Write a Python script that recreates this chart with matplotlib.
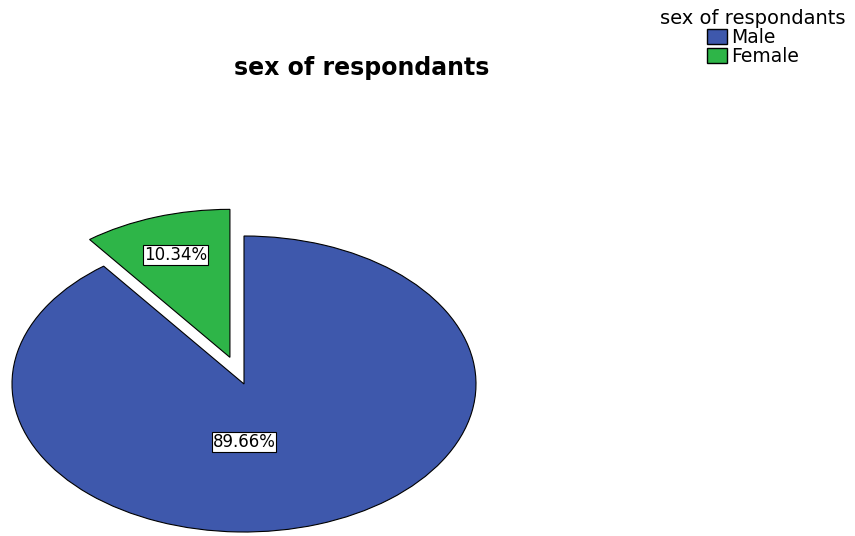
import matplotlib.pyplot as plt
from matplotlib.patches import Patch

plt.rcParams['font.family'] = ['DejaVu Sans']

categories = ["Male", "Female"]
percents = [89.66, 10.34]
colors = ["#3e58ac", "#2eb548"]
explode = [0.0, 0.19]

fig = plt.figure(figsize=(8.55, 5.36), dpi=100)
# axes placed so the unit circle maps onto the stretched SPSS-style ellipse
ax = fig.add_axes([12 / 855, 4 / 536, 464 / 855, 296 / 536])

wedges, texts, autotexts = ax.pie(
    percents, colors=colors, explode=explode, startangle=90,
    counterclock=False, autopct="%.2f%%", pctdistance=0.73,
    wedgeprops=dict(edgecolor="black", linewidth=0.8),
    textprops=dict(fontsize=12),
)
ax.set_aspect("auto")
ax.set_xlim(-1, 1)
ax.set_ylim(-1, 1)
for w in wedges:
    w.set_clip_on(False)

# male label sits just below the centre
autotexts[0].set_position((0.0, -0.39))
for t in autotexts:
    t.set_bbox(dict(facecolor="white", edgecolor="black", linewidth=0.8, pad=0.6))
    t.set_clip_on(False)

fig.text(362 / 855, 1 - 68 / 536, "sex of respondants", ha="center", va="center",
         fontsize=17, fontweight="bold")

handles = [Patch(facecolor=c, edgecolor="black", label=l) for c, l in zip(colors, categories)]
leg = fig.legend(handles=handles, title="sex of respondants", loc="upper right",
                 bbox_to_anchor=(1.0, 1.0), frameon=False, fontsize=13.5, title_fontsize=14,
                 handlelength=1.1, handleheight=0.85, handletextpad=0.2, labelspacing=0.0,
                 borderaxespad=0.2, borderpad=0.3)
leg._legend_box.align = "center"

fig.savefig("out.png", dpi=100)
